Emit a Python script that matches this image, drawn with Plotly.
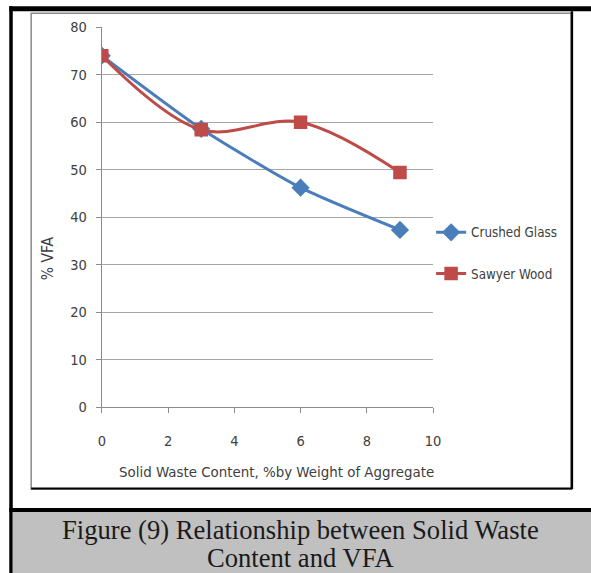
import plotly.graph_objects as go

# ---- data ----
waste_content = [0, 3, 6, 9]
crushed_glass = [74.0, 58.6, 46.2, 37.3]
sawyer_wood = [74.0, 58.4, 60.0, 49.4]
x_ticks = [0, 2, 4, 6, 8, 10]
y_ticks = [0, 10, 20, 30, 40, 50, 60, 70, 80]

# Positions below are given in photographed-window pixels and mapped to the
# figure's own pixel grid (the page is captured with a margin and rescaled).
W, H = 599, 581
AX, BX = 0.985, 2.7
OFF, SY = 8, 573 / 589
def px(t):
    return ((t - BX) / AX) / W
def py(t):
    return 1 - (t / SY - OFF) / H

NARROW = "Liberation Sans Narrow, DejaVu Sans Condensed, Arial Narrow, sans-serif"
TICKC = "#404040"

fig = go.Figure()
fig.add_trace(go.Scatter(
    x=waste_content, y=crushed_glass, name="Crushed Glass", mode="lines+markers",
    line=dict(color="#4A7EBB", width=3, shape="spline", smoothing=0.6),
    marker=dict(symbol="diamond", size=14, color="#4A7EBB"),
    legendgroup="a",
))
fig.add_trace(go.Scatter(
    x=waste_content, y=sawyer_wood, name="Sawyer Wood", mode="lines+markers",
    line=dict(color="#BE4B48", width=3, shape="spline", smoothing=1.0),
    marker=dict(symbol="square", size=13.5, color="#BE4B48"),
    legendgroup="b",
))

shapes = []
shapes.append(dict(type="rect", xref="paper", yref="paper", x0=px(30), x1=px(573), y0=py(489), y1=py(13),
                   line=dict(color="#8a8a8a", width=1.5), fillcolor="rgba(0,0,0,0)", layer="below"))
shapes.append(dict(type="line", xref="paper", yref="paper", x0=px(573.5), x1=px(573.5), y0=py(489), y1=py(11),
                   line=dict(color="black", width=2.5)))
shapes.append(dict(type="line", xref="paper", yref="paper", x0=px(30), x1=px(574), y0=py(488.5), y1=py(488.5),
                   line=dict(color="black", width=2)))
shapes.append(dict(type="rect", xref="paper", yref="paper", x0=px(8), x1=1, y0=py(11), y1=py(6),
                   line=dict(width=0), fillcolor="black"))
shapes.append(dict(type="rect", xref="paper", yref="paper", x0=px(8), x1=px(11.5), y0=0, y1=py(6),
                   line=dict(width=0), fillcolor="black"))
shapes.append(dict(type="rect", xref="paper", yref="paper", x0=px(11.5), x1=1, y0=0, y1=py(512),
                   line=dict(width=0), fillcolor="#C0C0C0"))
shapes.append(dict(type="rect", xref="paper", yref="paper", x0=px(8), x1=1, y0=py(512), y1=py(508),
                   line=dict(width=0), fillcolor="black"))

SERIF = dict(family="Liberation Serif, Times New Roman, serif", size=26.6, color="#1a1a1a")
annotations = [
    dict(text="% VFA", xref="paper", yref="paper", x=px(47), y=py(258), showarrow=False, textangle=-90,
         font=dict(family=NARROW, size=15.5, color=TICKC), xanchor="center", yanchor="middle"),
    dict(text="Solid Waste Content, %by Weight of Aggregate", xref="paper", yref="paper", x=px(277), y=py(472),
         showarrow=False, font=dict(family=NARROW, size=14.9, color=TICKC), xanchor="center", yanchor="middle"),
    dict(text="Figure (9) Relationship between Solid Waste", xref="paper", yref="paper",
         x=px(301), y=py(530), showarrow=False, font=SERIF, xanchor="center", yanchor="middle"),
    dict(text="Content and VFA", xref="paper", yref="paper",
         x=px(301), y=py(558), showarrow=False, font=SERIF, xanchor="center", yanchor="middle"),
]

fig.update_layout(
    width=W, height=H, margin=dict(l=0, r=0, t=0, b=0),
    paper_bgcolor="white", plot_bgcolor="white",
    showlegend=True,
    legend=dict(x=px(432), y=py(217), xanchor="left", yanchor="top", itemwidth=30,
                font=dict(family=NARROW, size=13.3, color=TICKC), tracegroupgap=21,
                bgcolor="rgba(0,0,0,0)"),
    xaxis=dict(domain=[px(101), px(434)], range=[0, 10], tickvals=x_ticks, showgrid=False,
               showline=True, linecolor="#8c8c8c", linewidth=1, ticks="outside", ticklen=5,
               tickcolor="#8c8c8c", zeroline=False, ticklabelstandoff=16,
               tickfont=dict(family=NARROW, size=14.5, color=TICKC)),
    yaxis=dict(domain=[py(407), py(27)], range=[0, 80], tickvals=y_ticks, showgrid=True,
               gridcolor="#a6a6a6", gridwidth=1, showline=True, linecolor="#8c8c8c", linewidth=1,
               ticks="outside", ticklen=5, tickcolor="#8c8c8c", zeroline=False, ticklabelstandoff=6,
               tickfont=dict(family=NARROW, size=14.5, color=TICKC)),
    shapes=shapes, annotations=annotations,
)

fig.write_html("out.html")
